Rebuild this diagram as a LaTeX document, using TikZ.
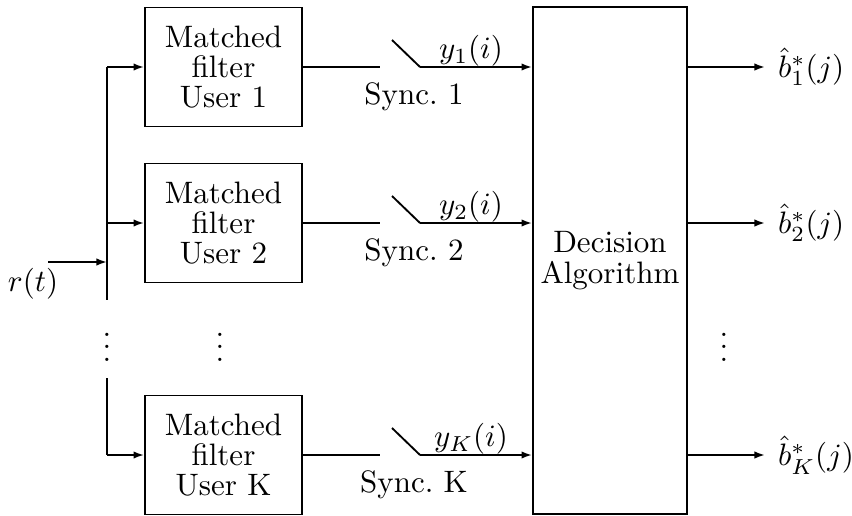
\documentclass[tikz,border=0pt]{standalone}
\usetikzlibrary{arrows.meta}
\newcommand\diagfont{\fontsize{10}{9.8}\selectfont}
\tikzset{
  wire/.style={line width=0.6pt},
  feed/.style={wire,-{Latex[length=3.4pt,width=2.4pt]}},
  block/.style={draw,line width=0.6pt,align=center,inner sep=0pt},
  filterbox/.style={block,minimum width=50.65pt,minimum height=38.4pt},
  lbl/.style={inner sep=0pt},
}
\begin{document}
\begin{tikzpicture}[x=0.3226pt,y=-0.3226pt,font=\diagfont]
\useasboundingbox (0,0) rectangle (852,516);

% matched filter bank
\node[filterbox] (mf1) at (223.5,67)  {Matched\\filter\\User 1};
\node[filterbox] (mf2) at (223.5,223) {Matched\\filter\\User 2};
\node[filterbox] (mfK) at (223.5,455) {Matched\\filter\\User K};

% decision stage
\node[block,minimum width=49.7pt,minimum height=163.6pt] (dec) at (610,260.5)
  {Decision\\Algorithm};

% received signal and distribution bus
\node[lbl] (rt) at (33,284) {$r(t)$};
\coordinate (rin) at (48,262);
\coordinate (bus) at (107,262);
\draw[feed] (rin) -- (bus);
\coordinate (btop) at (107,67);
\coordinate (bgap) at (107,300);
\coordinate (bres) at (107,378);
\coordinate (bbot) at (107,455);
\draw[wire] (btop) -- (bgap);
\draw[wire] (bres) -- (bbot);
\draw[feed] (btop) -- (mf1.west);
\draw[feed] (bus |- mf2.west) -- (mf2.west);
\draw[feed] (bbot) -- (mfK.west);

% ellipsis markers
\node[lbl] (vd1) at (107,338) {$\vdots$};
\node[lbl] (vd2) at (220,338) {$\vdots$};
\node[lbl] (vd3) at (724,338) {$\vdots$};

% sampling switches, samples and decisions
\foreach \k/\y in {1/67, 2/223, K/455} {
  \coordinate (sa\k) at (380,\y);
  \coordinate (sb\k) at (420,\y);
  \coordinate (sc\k) at (392,\y-27);
  \draw[wire] (mf\k.east) -- (sa\k);
  \draw[wire] (sc\k) -- (sb\k);
  \draw[feed] (sb\k) -- (dec.west |- sb\k);
  \node[lbl] (y\k) at (471,\y-16) {$y_{\k}(i)$};
  \node[lbl] (sy\k) at (414,\y+30) {Sync.~\k};
  \coordinate (o\k) at (765,\y);
  \draw[feed] (dec.east |- o\k) -- (o\k);
  \node[lbl,anchor=west] (b\k) at ([xshift=4]o\k) {$\hat{b}^*_{\k}(j)$};
}
\end{tikzpicture}
\end{document}
